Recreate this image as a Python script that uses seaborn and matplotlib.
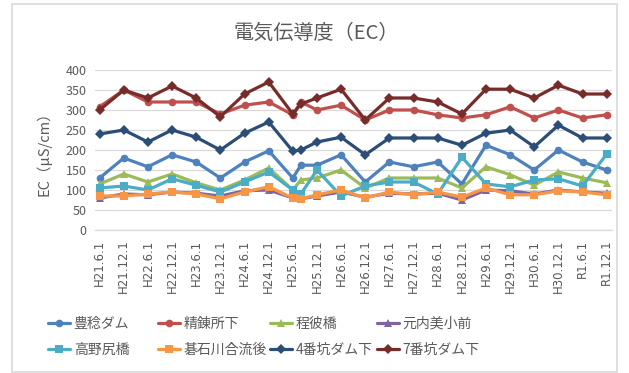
import matplotlib
matplotlib.use("Agg")
import matplotlib.pyplot as plt
from matplotlib.lines import Line2D
from matplotlib.patches import Rectangle
import pandas as pd
import seaborn as sns

# Sampling dates (one extra survey in summer of H25)
sample_dates = [
    "2009-06-01", "2009-12-01", "2010-06-01", "2010-12-01", "2011-06-01",
    "2011-12-01", "2012-06-01", "2012-12-01", "2013-06-01", "2013-08-01",
    "2013-12-01", "2014-06-01", "2014-12-01", "2015-06-01", "2015-12-01",
    "2016-06-01", "2016-12-01", "2017-06-01", "2017-12-01", "2018-06-01",
    "2018-12-01", "2019-06-01", "2019-12-01",
]
tick_dates = [
    "2009-06-01", "2009-12-01", "2010-06-01", "2010-12-01", "2011-06-01",
    "2011-12-01", "2012-06-01", "2012-12-01", "2013-06-01", "2013-12-01",
    "2014-06-01", "2014-12-01", "2015-06-01", "2015-12-01", "2016-06-01",
    "2016-12-01", "2017-06-01", "2017-12-01", "2018-06-01", "2018-12-01",
    "2019-06-01", "2019-12-01",
]
tick_labels = [
    "H21.6.1", "H21.12.1", "H22.6.1", "H22.12.1", "H23.6.1", "H23.12.1",
    "H24.6.1", "H24.12.1", "H25.6.1", "H25.12.1", "H26.6.1", "H26.12.1",
    "H27.6.1", "H27.12.1", "H28.6.1", "H28.12.1", "H29.6.1", "H29.12.1",
    "H30.6.1", "H30.12.1", "R1.6.1", "R1.12.1",
]

sites = ["豊稔ダム", "精錬所下", "程彼橋", "元内美小前",
         "高野尻橋", "碁石川合流後", "4番坑ダム下", "7番坑ダム下"]

hounen_dam = [130, 180, 158, 188, 170, 130, 170, 198, 130, 162, 162, 188,
              120, 170, 158, 170, 115, 212, 188, 150, 200, 170, 150]
seirensho_shita = [308, 350, 320, 320, 320, 290, 312, 320, 288, 320, 300, 312,
                   275, 300, 300, 288, 280, 288, 308, 280, 300, 280, 288]
hodo_bashi = [115, 140, 120, 140, 118, 100, 125, 155, 100, 125, 130, 150,
              105, 130, 130, 130, 105, 158, 138, 112, 145, 130, 118]
motonai_mae = [80, 90, 88, 95, 92, 85, 98, 100, 80, 78, 85, 95,
               82, 92, 90, 92, 75, 100, 98, 90, 100, 95, 92]
takanojiri_bashi = [105, 110, 100, 128, 112, 95, 120, 145, 100, 90, 150, 85,
                    110, 120, 120, 90, 182, 115, 108, 125, 128, 110, 190]
goishi_goryu = [85, 85, 90, 95, 90, 78, 95, 108, 80, 78, 88, 100,
                80, 95, 88, 95, 82, 105, 88, 88, 98, 95, 88]
kou4_dam = [240, 250, 220, 250, 232, 200, 242, 270, 197, 200, 220, 232,
            188, 230, 230, 230, 212, 242, 250, 208, 262, 230, 230]
kou7_dam = [300, 350, 330, 360, 330, 283, 340, 370, 290, 315, 330, 352,
            275, 330, 330, 320, 290, 352, 352, 330, 362, 340, 340]

series = [hounen_dam, seirensho_shita, hodo_bashi, motonai_mae,
          takanojiri_bashi, goishi_goryu, kou4_dam, kou7_dam]
colors = ["#4F81BD", "#C0504D", "#9BBB59", "#8064A2",
          "#4BACC6", "#F79646", "#2C4D75", "#772C2A"]
markers = ["o", "o", "^", "^", "s", "s", "D", "D"]

frames = []
for name, vals in zip(sites, series):
    frames.append(pd.DataFrame({"date": pd.to_datetime(sample_dates),
                                "ec": vals, "site": name}))
df = pd.concat(frames, ignore_index=True)

sns.set_style("white")
plt.rcParams["font.family"] = ["Noto Sans CJK JP", "DejaVu Sans"]
grey_text = "#595959"
grid_grey = "#d9d9d9"

W, H = 629, 373
fig = plt.figure(figsize=(W / 100, H / 100), dpi=100)
ax = fig.add_axes([95 / W, 1 - 230 / H, (612 - 95) / W, (230 - 70) / H])

sns.lineplot(data=df, x="date", y="ec", hue="site", style="site",
             hue_order=sites, style_order=sites,
             palette=dict(zip(sites, colors)),
             markers=dict(zip(sites, markers)), dashes=False,
             linewidth=2.3, markersize=5.5, markeredgewidth=0,
             legend=False, ax=ax)

ax.set_ylim(0, 400)
ax.set_yticks(range(0, 401, 50))
ax.set_xlim(pd.Timestamp("2009-06-01") - pd.Timedelta(days=35),
            pd.Timestamp("2019-12-01") + pd.Timedelta(days=40))
ax.set_xticks(pd.to_datetime(tick_dates))
ax.set_xticklabels(tick_labels, rotation=90, fontsize=8.5, color=grey_text,
                   family=["DejaVu Sans"])
ax.tick_params(axis="y", labelsize=9, colors=grey_text, length=0, pad=6)
ax.tick_params(axis="x", length=4, color=grid_grey, pad=3)
ax.set_xlabel("")
ax.set_ylabel("EC（μS/cm）", fontsize=10.5, color=grey_text)
ax.yaxis.set_label_coords(-0.085, 0.5)
ax.grid(axis="y", color=grid_grey, linewidth=0.9)
ax.grid(axis="x", visible=False)
for side in ("left", "right", "top"):
    ax.spines[side].set_visible(False)
ax.spines["bottom"].set_color(grid_grey)
ax.spines["bottom"].set_linewidth(0.9)

fig.text(316 / W, 1 - 33 / H, "電気伝導度（EC）", ha="center", va="center",
         fontsize=14.5, color=grey_text)

# Legend laid out in four fixed-width columns of two rows
col_x = [48, 158, 270, 377]
for c, x in enumerate(col_x):
    handles = []
    for r in range(2):
        i = r * 4 + c
        handles.append(Line2D([], [], color=colors[i], marker=markers[i],
                              lw=2.3, markersize=5.5, markeredgewidth=0,
                              label=sites[i]))
    leg = fig.legend(handles=handles, loc="upper left",
                     bbox_to_anchor=(x / W, 1 - 317 / H),
                     bbox_transform=fig.transFigure, frameon=False,
                     fontsize=10, handlelength=1.6, handletextpad=0.25,
                     labelspacing=0.88, borderpad=0, borderaxespad=0,
                     numpoints=1)
    for t in leg.get_texts():
        t.set_color(grey_text)

fig.patches.append(Rectangle((12 / W, 1 / H), (617 - 12) / W, (372 - 4) / H,
                             transform=fig.transFigure, fill=False,
                             edgecolor=grid_grey, linewidth=1.2))

fig.savefig("out.png", dpi=100, facecolor="white")
